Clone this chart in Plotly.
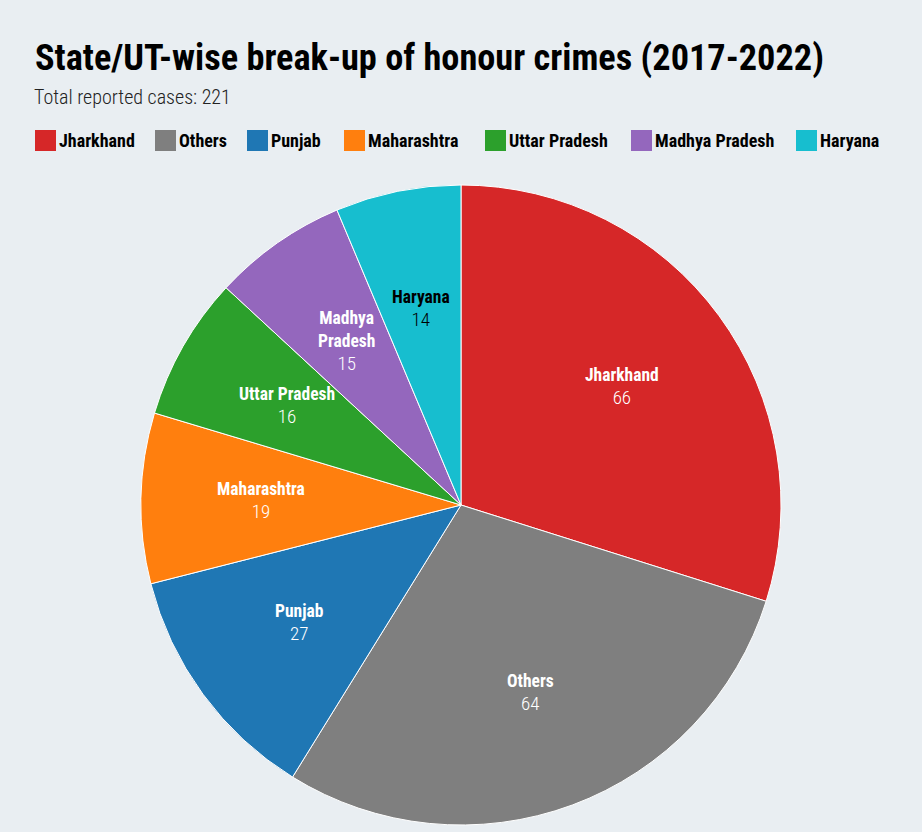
import math
import plotly.graph_objects as go

# Data
states = ["Jharkhand", "Others", "Punjab", "Maharashtra", "Uttar Pradesh", "Madhya Pradesh", "Haryana"]
slice_text = ["Jharkhand", "Others", "Punjab", "Maharashtra", "Uttar Pradesh", "Madhya<br>Pradesh", "Haryana"]
cases = [66, 64, 27, 19, 16, 15, 14]
colors = ["#d62728", "#7f7f7f", "#1f77b4", "#ff7f0e", "#2ca02c", "#9467bd", "#17becf"]
text_colors = ["white", "white", "white", "white", "white", "white", "black"]

# legend square left edges (px) in the top legend row
legend_x = [35, 155, 247, 344, 485, 631, 796]

FONT = "Roboto Condensed, Roboto, sans-serif"
BG = "#e9eef2"

W, H = 922, 832
ML, MR, MT, MB = 141, 141, 185, 7
PW = W - ML - MR  # 640


def px_x(px):
    return (px - ML) / PW


def px_y(py):
    return (H - MB - py) / (H - MT - MB)


fig = go.Figure()
fig.add_trace(go.Pie(
    labels=states,
    values=cases,
    sort=False,
    direction="clockwise",
    rotation=0,
    marker=dict(colors=colors, line=dict(color="white", width=1)),
    textinfo="none",
    hoverinfo="label+value",
    showlegend=False,
))

annotations = []

# slice labels at 0.625 of the radius, on the middle angle of each slice
total = sum(cases)
cum = 0
for name, v, tc in zip(slice_text, cases, text_colors):
    mid = (cum + v / 2) / total * 2 * math.pi
    cum += v
    annotations.append(dict(
        text="<b>%s</b><br><span style='font-size:19px;font-weight:300'>%d</span>" % (name, v),
        xref="paper", yref="paper",
        x=0.5 + 0.3125 * math.sin(mid), y=0.5 + 0.3125 * math.cos(mid),
        xanchor="center", yanchor="middle",
        showarrow=False,
        font=dict(family=FONT, size=17.5, color=tc),
    ))

# subtitle
annotations.append(dict(
    text="<span style='font-weight:300'>Total reported cases: 221</span>",
    xref="paper", yref="paper",
    x=px_x(32), xanchor="left",
    y=px_y(97), yanchor="middle",
    showarrow=False,
    font=dict(family=FONT, size=20, color="#222"),
))

# legend row
shapes = []
for name, c, lx in zip(states, colors, legend_x):
    shapes.append(dict(
        type="rect", xref="paper", yref="paper",
        x0=px_x(lx), x1=px_x(lx + 21),
        y0=px_y(151), y1=px_y(130),
        fillcolor=c, line=dict(width=0),
    ))
    annotations.append(dict(
        text="<b>%s</b>" % name,
        xref="paper", yref="paper",
        x=px_x(lx + 22), xanchor="left",
        y=px_y(140.5), yanchor="middle",
        showarrow=False,
        font=dict(family=FONT, size=18, color="black"),
    ))

fig.update_layout(
    width=W, height=H,
    paper_bgcolor=BG, plot_bgcolor=BG,
    margin=dict(l=ML, r=MR, t=MT, b=MB),
    title=dict(
        text="<b>State/UT-wise break-up of honour crimes (2017-2022)</b>",
        font=dict(family=FONT, size=36.3, color="black"),
        x=35 / W, xanchor="left", xref="container",
        y=1 - 57 / H, yanchor="middle", yref="container",
    ),
    annotations=annotations,
    shapes=shapes,
    showlegend=False,
)

fig.write_html(
    "out.html",
    config={"displayModeBar": False},
    post_script="document.body.style.margin='0';document.body.style.background='%s';" % BG,
)
